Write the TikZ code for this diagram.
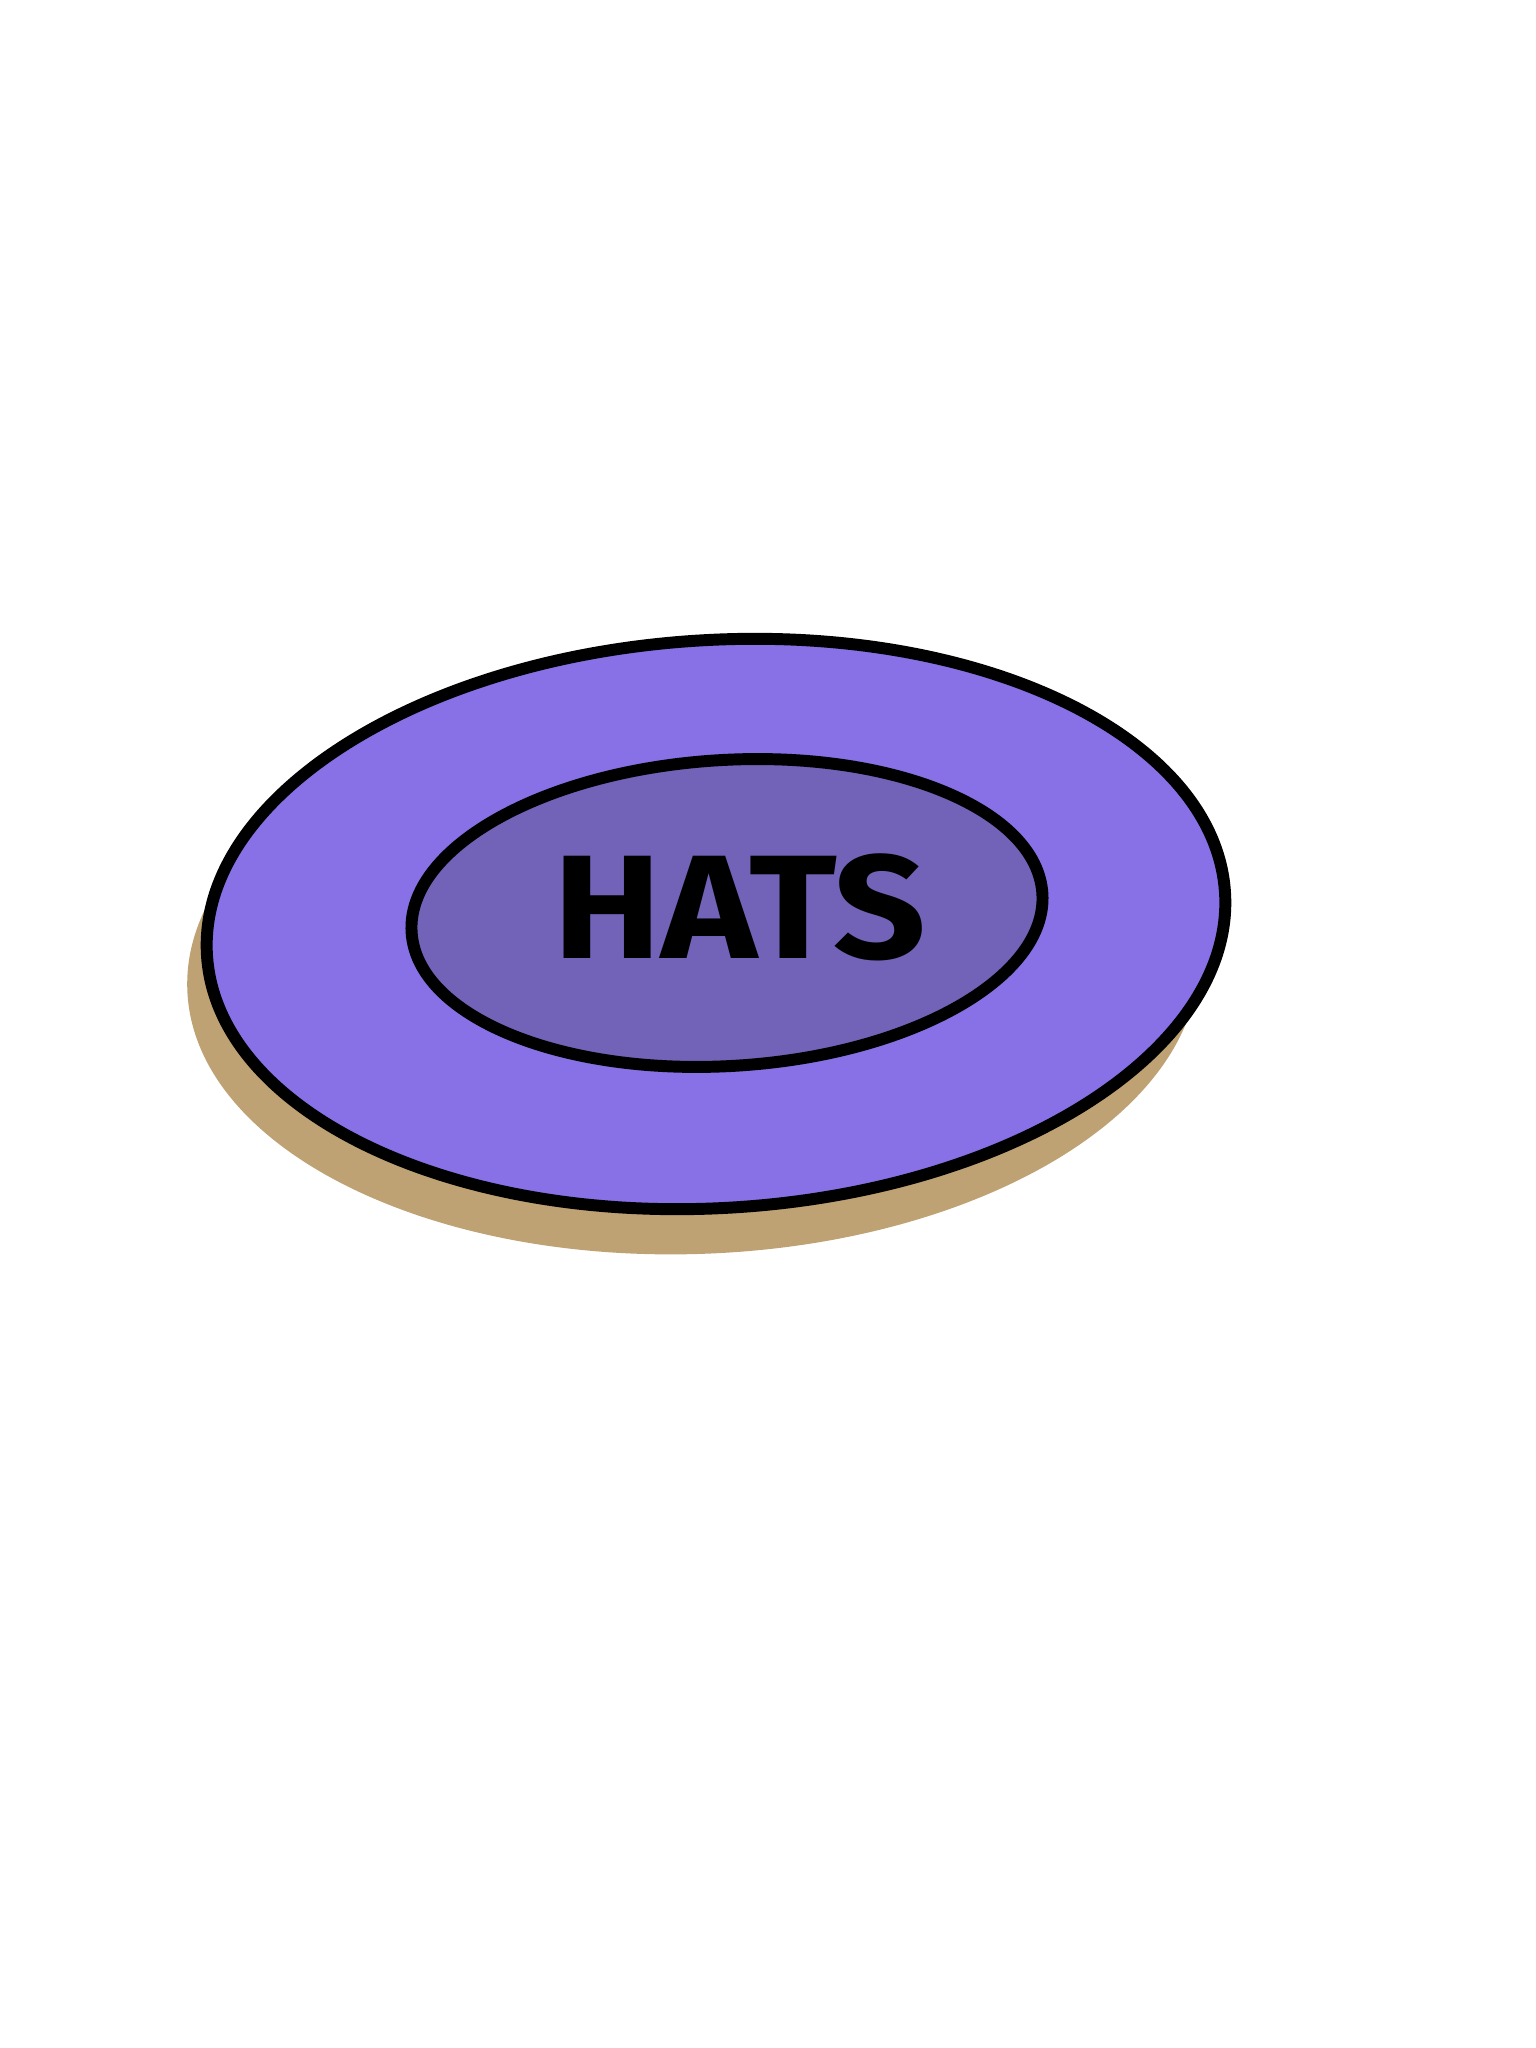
\documentclass[tikz,border=0pt]{standalone}
\usepackage{fontspec}
\newfontfamily\hatsfont{Fira Sans}
\definecolor{plateouter}{HTML}{8870E6}
\definecolor{plateinner}{HTML}{7262B8}
\definecolor{plateshadow}{HTML}{BFA274}
\begin{document}
\begin{tikzpicture}
    \useasboundingbox (0,0) rectangle (15.36,20.48);

    % Shadow
    \fill[plateshadow, rotate around={2:(6.93,10.76)}] (6.93,10.76) ellipse (5.06 and 2.82);

    % Plate
    \draw[line width=3.4pt, fill=plateouter, rotate around={3.5:(7.16,11.24)}] (7.16,11.24) ellipse (5.10 and 2.84);
    \draw[line width=3.4pt, fill=plateinner, rotate around={3.5:(7.27,11.35)}] (7.27,11.35) ellipse (3.16 and 1.53);

    % Label
    \node[font=\hatsfont\bfseries\fontsize{42}{42}\selectfont, inner sep=0pt, xscale=1.1] (hats) at (7.40,11.41) {HATS};
\end{tikzpicture}
\end{document}
